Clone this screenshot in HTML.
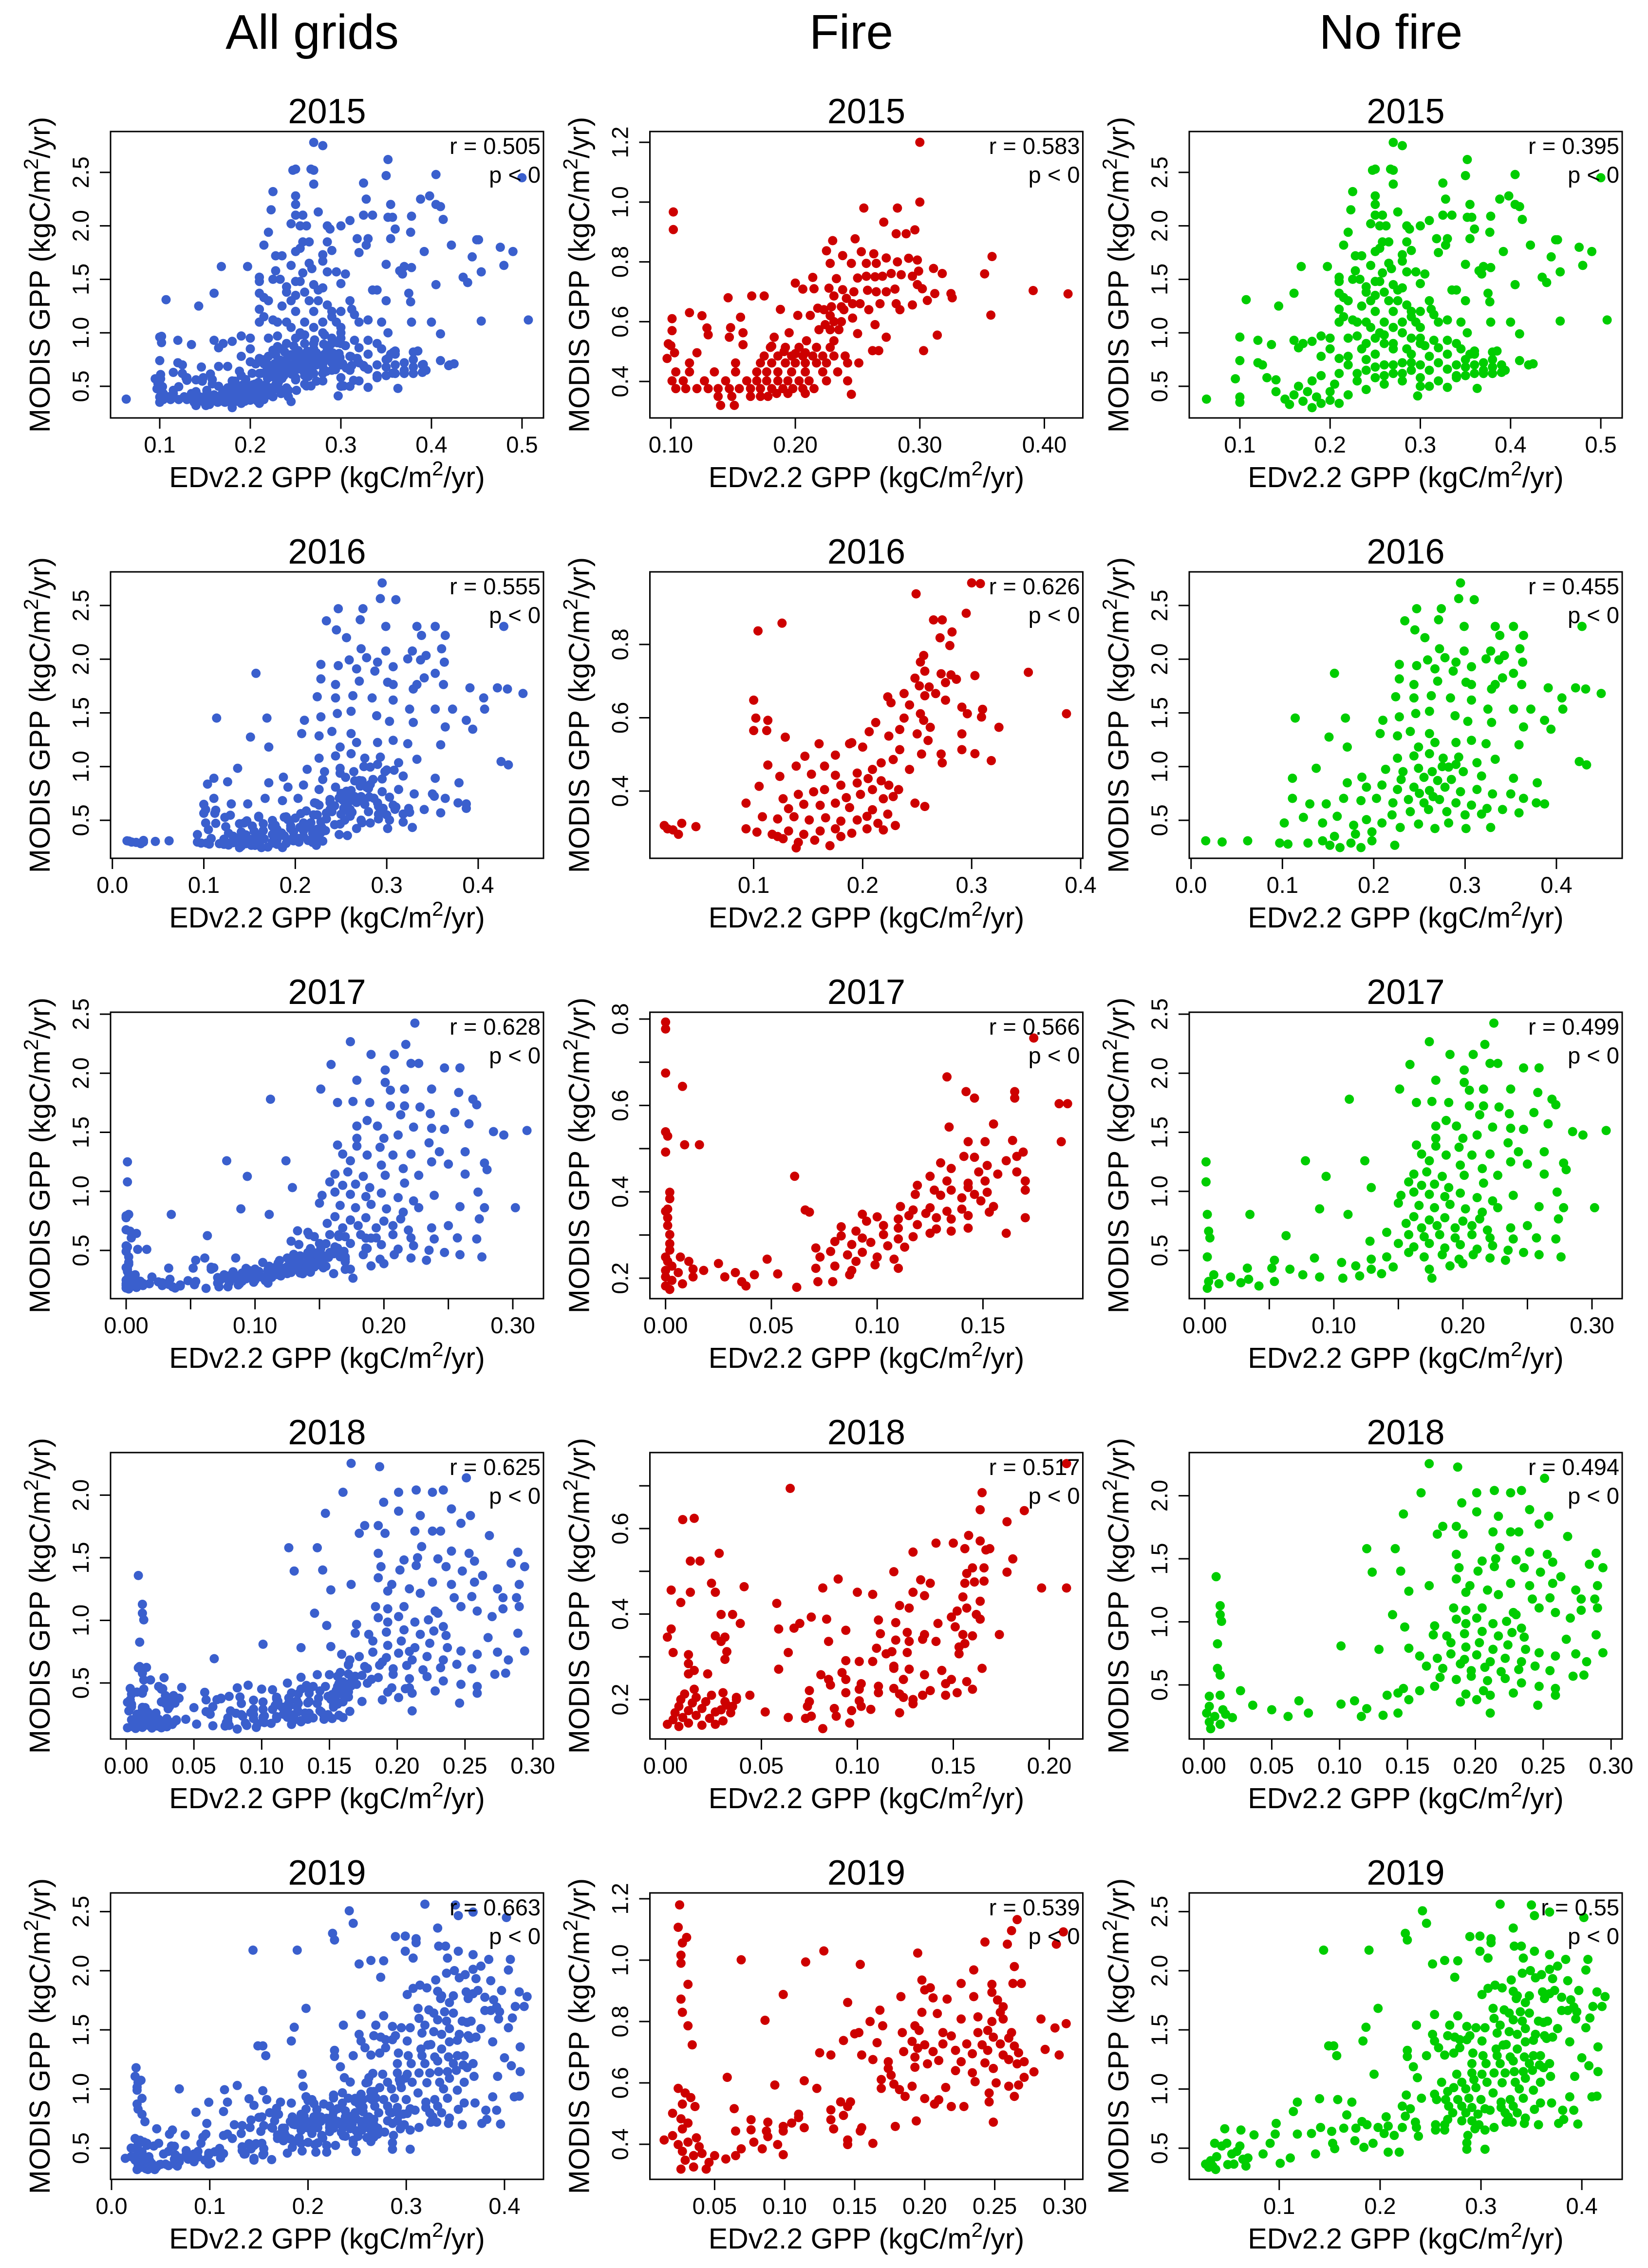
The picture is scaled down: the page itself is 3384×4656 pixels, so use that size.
<!DOCTYPE html>
<html><head><meta charset="utf-8"><title>EDv2.2 vs MODIS GPP</title>
<style>html,body{margin:0;padding:0;background:#fff}svg{display:block}text{font-family:"Liberation Sans",Arial,sans-serif;fill:#000}</style>
</head><body>
<svg id="fig" xmlns="http://www.w3.org/2000/svg" width="3384" height="4656" viewBox="0 0 3384 4656">
<rect width="3384" height="4656" fill="#fff"/>
<text x="641" y="100" font-size="100" text-anchor="middle">All grids</text>
<text x="1748" y="100" font-size="100" text-anchor="middle">Fire</text>
<text x="2856" y="100" font-size="100" text-anchor="middle">No fire</text>
<g id="panels"></g>
</svg>
<script>
const years=["2015","2016","2017","2018","2019"];
const rAll=["0.505","0.555","0.628","0.625","0.663"];
const rFire=["0.583","0.626","0.566","0.517","0.539"];
const rNoFire=["0.395","0.455","0.499","0.494","0.55"];

const fire2015=[[0.30,1.2],[0.102,0.967],[0.102,0.908],[0.255,0.98],[0.282,0.98],[0.30,1.0],[0.271,0.933],[0.281,0.894],[0.289,0.894],[0.296,0.907],[0.23,0.871],[0.248,0.877],[0.225,0.837],[0.238,0.821],[0.253,0.834],[0.263,0.827],[0.358,0.818],[0.352,0.76],[0.391,0.704],[0.419,0.693],[0.357,0.622],[0.228,0.795],[0.245,0.795],[0.257,0.795],[0.265,0.795],[0.273,0.813],[0.282,0.8],[0.291,0.812],[0.298,0.806],[0.311,0.778],[0.318,0.761],[0.299,0.769],[0.214,0.748],[0.2,0.729],[0.233,0.744],[0.25,0.746],[0.257,0.752],[0.264,0.75],[0.27,0.752],[0.277,0.761],[0.285,0.757],[0.294,0.752],[0.206,0.709],[0.215,0.71],[0.227,0.712],[0.238,0.707],[0.247,0.7],[0.258,0.705],[0.265,0.7],[0.273,0.7],[0.28,0.709],[0.298,0.724],[0.302,0.71],[0.312,0.694],[0.325,0.694],[0.326,0.68],[0.306,0.671],[0.231,0.686],[0.241,0.678],[0.146,0.68],[0.165,0.686],[0.175,0.686],[0.246,0.66],[0.237,0.65],[0.229,0.65],[0.218,0.645],[0.239,0.64],[0.252,0.66],[0.259,0.64],[0.268,0.66],[0.281,0.66],[0.294,0.656],[0.284,0.64],[0.246,0.612],[0.202,0.621],[0.212,0.621],[0.188,0.641],[0.156,0.615],[0.129,0.579],[0.13,0.556],[0.148,0.58],[0.147,0.548],[0.158,0.563],[0.158,0.523],[0.121,0.496],[0.098,0.526],[0.1,0.52],[0.097,0.477],[0.103,0.496],[0.183,0.548],[0.195,0.563],[0.181,0.518],[0.191,0.5],[0.2,0.493],[0.208,0.496],[0.209,0.536],[0.219,0.573],[0.228,0.573],[0.235,0.573],[0.231,0.536],[0.25,0.56],[0.264,0.59],[0.273,0.548],[0.262,0.503],[0.267,0.503],[0.303,0.503],[0.314,0.555],[0.231,0.6],[0.237,0.6],[0.228,0.62],[0.223,0.64],[0.224,0.59],
[0.104,0.376],[0.112,0.376],[0.121,0.376],[0.13,0.376],[0.138,0.376],[0.147,0.376],[0.155,0.376],[0.164,0.376],[0.172,0.376],[0.181,0.376],[0.19,0.376],[0.198,0.376],[0.206,0.376],[0.215,0.376],
[0.101,0.402],[0.11,0.402],[0.127,0.402],[0.144,0.402],[0.161,0.402],[0.169,0.402],[0.177,0.402],[0.186,0.402],[0.194,0.402],[0.203,0.402],[0.211,0.402],[0.225,0.402],[0.242,0.402],
[0.104,0.432],[0.115,0.432],[0.135,0.432],[0.152,0.432],[0.169,0.432],[0.177,0.432],[0.186,0.432],[0.197,0.432],[0.208,0.432],[0.222,0.432],[0.234,0.432],
[0.115,0.462],[0.152,0.462],[0.172,0.462],[0.181,0.462],[0.192,0.462],[0.2,0.462],[0.208,0.462],[0.217,0.462],[0.225,0.462],[0.242,0.462],[0.251,0.462],
[0.175,0.485],[0.186,0.485],[0.197,0.485],[0.206,0.485],[0.214,0.485],[0.222,0.485],[0.231,0.485],[0.24,0.485],
[0.18,0.514],[0.192,0.514],[0.203,0.514],[0.217,0.514],[0.228,0.514],
[0.138,0.35],[0.149,0.35],[0.164,0.35],[0.172,0.35],[0.178,0.35],[0.14,0.32],[0.151,0.32],[0.185,0.36],[0.194,0.36],[0.208,0.36],[0.245,0.357],[0.101,0.57],[0.101,0.61],[0.115,0.63],[0.125,0.62]];

const noFire2015=[[0.063,0.38],[0.107,1.31],[0.143,1.25],[0.168,1.62],[0.197,1.62],[0.16,1.37],[0.27,2.78],[0.28,2.75],[0.247,2.52],[0.25,2.53],[0.267,2.53],[0.27,2.52],[0.27,2.39],[0.225,2.32],[0.25,2.28],[0.25,2.2],[0.223,2.15],[0.25,2.1],[0.258,2.1],[0.245,2.02],[0.255,2.0],[0.262,2.0],[0.275,2.13],[0.285,2.0],[0.288,1.97],[0.3,2.0],[0.31,2.05],[0.325,2.4],[0.328,2.25],[0.325,2.1],[0.335,2.1],[0.352,2.62],[0.35,2.47],[0.355,2.2],[0.352,2.08],[0.357,2.08],[0.36,1.97],[0.378,2.09],[0.377,1.94],[0.388,2.25],[0.398,2.28],[0.405,2.48],[0.405,2.2],[0.41,2.18],[0.413,2.06],[0.422,1.82],[0.45,1.87],[0.452,1.87],[0.476,1.8],[0.49,1.76],[0.48,1.63],[0.445,1.71],[0.455,1.57],[0.435,1.52],[0.44,1.47],[0.405,1.45],[0.392,1.76],[0.355,1.88],[0.35,1.64],[0.365,1.58],[0.368,1.55],[0.37,1.62],[0.378,1.61],[0.375,1.37],[0.377,1.29],[0.378,1.1],[0.4,1.1],[0.41,0.99],[0.455,1.11],[0.507,1.12],[0.5,2.45],[0.35,1.3],[0.34,1.4],[0.335,1.4],[0.328,1.82],[0.33,1.88],[0.318,1.88],[0.32,1.75],[0.305,1.55],[0.3,1.46],[0.295,1.57],[0.29,1.77],[0.285,1.85],[0.28,1.73],[0.28,1.67],[0.285,1.57],[0.265,1.85],[0.258,1.85],[0.255,1.79],[0.25,1.76],[0.245,1.63],[0.235,1.72],[0.228,1.72],[0.22,1.94],[0.215,1.82],[0.225,1.5],[0.228,1.58],[0.233,1.5],[0.21,1.52],[0.21,1.48],[0.21,1.37],[0.215,1.33],[0.22,1.3],[0.21,1.22],[0.24,1.43],[0.24,1.38],[0.245,1.3],[0.25,1.48],[0.255,1.48],[0.258,1.56],[0.26,1.38],[0.265,1.65],[0.268,1.6],[0.27,1.45],[0.275,1.4],[0.28,1.42],[0.285,1.26],[0.29,1.2],[0.295,1.1],[0.3,1.05],[0.31,1.3],[0.312,1.22],[0.315,1.17],[0.32,1.1],[0.33,1.12],[0.345,1.1],[0.352,1.0],
[0.21,1.1],[0.215,1.15],[0.225,1.12],[0.23,1.1],[0.24,1.1],[0.23,0.97],[0.26,1.1],[0.25,1.2],[0.265,1.3],[0.27,1.2],[0.28,1.1],[0.235,1.25],[0.245,1.05],[0.255,1.0],[0.26,0.9],[0.235,0.85],[0.22,0.95],[0.25,1.35],[0.275,1.3],[0.29,1.15],[0.3,1.2],[0.27,0.9],[0.285,0.85],
[0.3,0.95],[0.305,0.88],[0.315,0.93],[0.33,0.93],[0.34,0.9],[0.345,0.85],[0.355,0.8],[0.36,0.83],[0.38,0.82],[0.385,0.83],[0.38,0.75],[0.39,0.7],[0.394,0.65],[0.37,0.72],[0.36,0.7],[0.35,0.68],[0.36,0.62],[0.37,0.65],[0.363,0.48],[0.38,0.62],[0.41,0.74],[0.42,0.7],[0.425,0.71],[0.35,0.6],[0.34,0.58],[0.33,0.66],[0.32,0.55],[0.31,0.5],[0.3,0.5],[0.33,0.49],[0.297,0.41],
[0.1,0.96],[0.1,0.74],[0.095,0.57],[0.1,0.4],[0.1,0.35],[0.12,0.93],[0.135,0.89],[0.12,0.72],[0.125,0.7],[0.14,0.56],[0.13,0.58],[0.16,0.93],[0.165,0.86],[0.17,0.9],[0.18,0.92],[0.19,0.97],[0.2,0.95],[0.19,0.78],[0.2,0.85],[0.21,0.76],[0.22,0.78],[0.24,0.9],[0.25,0.95],[0.26,0.98],[0.27,1.05],[0.28,1.0],[0.29,0.95],[0.3,0.9],
[0.14,0.45],[0.15,0.38],[0.155,0.33],[0.16,0.42],[0.165,0.5],[0.17,0.36],[0.175,0.45],[0.18,0.3],[0.18,0.55],[0.185,0.4],[0.19,0.34],[0.19,0.6],[0.2,0.45],[0.2,0.37],[0.205,0.52],[0.21,0.34],[0.21,0.62],[0.22,0.42],[0.22,0.7],[0.23,0.55],[0.24,0.47],[0.24,0.65],[0.25,0.58],[0.25,0.8],[0.26,0.7],[0.26,0.52],[0.27,0.62],[0.27,0.85],[0.28,0.72],[0.28,0.55],[0.29,0.8],[0.29,0.65],[0.3,0.7],[0.3,0.58],[0.31,0.78],[0.31,0.65],[0.32,0.72],[0.32,0.86],[0.33,0.8],[0.34,0.7],[0.34,0.6],[0.35,0.75],[0.36,0.8],[0.37,0.62],[0.38,0.68],[0.39,0.63],[0.26,0.6],[0.27,0.7],[0.24,0.75],[0.25,0.68],[0.23,0.62],[0.28,0.62],[0.29,0.72]];

const fire2016=[[0.3,0.968],[0.308,0.966],[0.249,0.938],[0.126,0.858],[0.104,0.837],[0.295,0.885],[0.265,0.867],[0.273,0.867],[0.282,0.834],[0.271,0.818],[0.28,0.797],[0.256,0.77],[0.253,0.752],[0.352,0.724],[0.387,0.611],[0.1,0.648],
[0.257,0.727],[0.272,0.72],[0.281,0.717],[0.248,0.708],[0.276,0.696],[0.261,0.684],[0.252,0.687],[0.286,0.705],[0.303,0.715],[0.267,0.666],[0.257,0.66],[0.238,0.666],[0.223,0.657],[0.226,0.641],[0.243,0.635],[0.276,0.648],[0.291,0.629],[0.31,0.623],[0.296,0.611],[0.309,0.602],[0.253,0.611],[0.238,0.599],[0.256,0.593],[0.262,0.574],[0.25,0.556],[0.212,0.587],[0.234,0.568],[0.224,0.55],[0.206,0.562],[0.325,0.574],[0.291,0.556],[0.26,0.538],[0.291,0.513],[0.272,0.501],[0.303,0.502],[0.318,0.483],[0.273,0.477],[0.254,0.501],[0.234,0.513],[0.2,0.52],[0.19,0.532],
[0.129,0.547],[0.102,0.599],[0.113,0.593],[0.1,0.565],[0.112,0.565],[0.16,0.529],[0.188,0.529],[0.175,0.498],[0.147,0.495],[0.139,0.468],[0.113,0.471],[0.165,0.468],[0.228,0.486],[0.217,0.477],[0.209,0.459],[0.243,0.459],
[0.124,0.44],[0.105,0.413],[0.153,0.446],[0.175,0.443],[0.195,0.449],[0.205,0.434],[0.217,0.428],[0.224,0.416],[0.233,0.404],[0.195,0.422],[0.18,0.416],[0.165,0.404],[0.155,0.398],[0.141,0.391],[0.127,0.379],[0.093,0.367],[0.209,0.404],[0.228,0.385],[0.248,0.367],[0.257,0.358],[0.219,0.379],[0.198,0.391],[0.185,0.382],[0.175,0.367],[0.161,0.361],[0.146,0.364],[0.132,0.352],[0.188,0.355],[0.209,0.349],[0.223,0.337],[0.204,0.331],
[0.108,0.33],[0.122,0.324],[0.137,0.33],[0.151,0.321],[0.166,0.327],[0.18,0.318],[0.195,0.321],[0.214,0.312],[0.23,0.306],[0.093,0.297],[0.103,0.288],[0.117,0.282],[0.132,0.291],[0.146,0.282],[0.161,0.291],[0.175,0.297],[0.19,0.285],[0.204,0.297],[0.127,0.27],[0.141,0.26],[0.156,0.266],[0.17,0.251],[0.139,0.245],[0.122,0.276],[0.18,0.276],[0.219,0.294],
[0.018,0.306],[0.026,0.294],[0.031,0.282],[0.034,0.312],[0.047,0.303],[0.021,0.297]];

const noFire2016=[[0.295,2.71],[0.293,2.564],[0.31,2.554],[0.247,2.47],[0.274,2.47],[0.234,2.357],[0.271,2.367],[0.245,2.273],[0.299,2.305],[0.333,2.305],[0.353,2.305],[0.338,2.221],[0.364,2.221],[0.256,2.2],[0.428,2.305],[0.272,2.097],[0.299,2.076],[0.328,2.076],[0.36,2.097],[0.259,1.993],[0.278,2.014],[0.29,1.972],[0.323,2.003],[0.337,1.993],[0.343,2.034],[0.363,1.972],[0.157,1.868],[0.228,1.951],[0.247,1.94],[0.267,1.91],[0.287,1.889],[0.307,1.93],[0.353,1.868],[0.228,1.816],[0.244,1.764],[0.27,1.795],[0.301,1.785],[0.307,1.764],[0.333,1.764],[0.341,1.826],[0.391,1.733],[0.421,1.733],[0.432,1.722],[0.449,1.681],[0.362,1.764],[0.329,1.722],
[0.224,1.65],[0.244,1.639],[0.263,1.66],[0.284,1.639],[0.307,1.619],[0.325,1.535],[0.353,1.535],[0.372,1.535],[0.406,1.639],[0.407,1.535],[0.114,1.452],[0.169,1.452],[0.21,1.431],[0.228,1.463],[0.246,1.494],[0.261,1.515],[0.289,1.473],[0.303,1.421],[0.329,1.411],[0.364,1.369],[0.387,1.431],[0.394,1.348],[0.151,1.275],[0.171,1.182],[0.207,1.307],[0.226,1.286],[0.24,1.327],[0.261,1.307],[0.29,1.224],[0.307,1.244],[0.323,1.213],[0.359,1.203],[0.267,1.224],[0.249,1.182],
[0.226,1.078],[0.244,1.099],[0.261,1.12],[0.276,1.078],[0.293,1.088],[0.313,1.036],[0.333,1.068],[0.425,1.047],[0.433,1.016],[0.137,0.984],[0.111,0.891],[0.187,0.901],[0.213,0.974],[0.232,0.953],[0.249,0.984],[0.264,0.953],[0.282,0.995],[0.298,0.953],[0.318,0.912],[0.353,0.891],[0.379,0.849],
[0.171,0.849],[0.192,0.808],[0.209,0.828],[0.226,0.787],[0.244,0.808],[0.261,0.777],[0.278,0.808],[0.295,0.766],[0.313,0.787],[0.33,0.745],[0.35,0.745],[0.364,0.704],[0.378,0.662],[0.387,0.652],
[0.111,0.704],[0.13,0.652],[0.148,0.652],[0.167,0.704],[0.186,0.683],[0.203,0.704],[0.221,0.662],[0.238,0.693],[0.255,0.662],[0.272,0.693],[0.29,0.662],[0.307,0.641],[0.324,0.61],[0.341,0.6],[0.359,0.569],[0.318,0.558],
[0.102,0.475],[0.123,0.527],[0.144,0.475],[0.16,0.537],[0.178,0.454],[0.192,0.506],[0.209,0.475],[0.229,0.433],[0.249,0.465],[0.267,0.423],[0.282,0.475],[0.301,0.423],[0.328,0.433],
[0.016,0.309],[0.034,0.298],[0.062,0.309],[0.097,0.288],[0.106,0.278],[0.128,0.288],[0.144,0.309],[0.152,0.267],[0.163,0.246],[0.175,0.288],[0.186,0.246],[0.198,0.309],[0.223,0.267],[0.157,0.35],[0.18,0.371],[0.198,0.392],
[0.255,0.9],[0.27,0.87],[0.285,0.88],[0.25,0.75],[0.265,0.72],[0.24,0.58],[0.26,0.6],[0.28,0.58],[0.22,0.55],[0.3,0.55],[0.23,0.88],[0.275,1.0],[0.29,1.02]];

const fire2017=[[0,0.793],[0,0.777],[0.174,0.756],[0,0.675],[0.008,0.644],[0.133,0.666],[0.142,0.632],[0.146,0.617],[0.165,0.632],[0.165,0.617],[0.186,0.604],[0.19,0.604],[0,0.539],[0.001,0.529],[0.009,0.509],[0.016,0.509],[0.134,0.55],[0.155,0.557],[0.143,0.516],[0.151,0.516],[0.164,0.519],[0.187,0.516],[0,0.492],[0.061,0.436],[0.141,0.482],[0.146,0.48],[0.13,0.467],[0.152,0.461],[0.161,0.472],[0.166,0.482],[0.169,0.492],[0.135,0.454],[0.148,0.446],[0.157,0.441],[0.166,0.446],[0.125,0.436],[0.133,0.425],[0.143,0.42],[0.151,0.425],[0.17,0.425],[0.119,0.415],[0.127,0.404],[0.135,0.404],[0.143,0.41],[0.152,0.399],[0.17,0.404],[0.002,0.399],[0.002,0.384],[0.001,0.36],[0.118,0.394],[0.13,0.392],[0.14,0.386],[0.149,0.379],[0.155,0.366],[0.146,0.394],[0.111,0.366],[0.117,0.358],[0.125,0.363],[0.133,0.355],[0.14,0.36],[0.153,0.353],[0.066,0.358],[0.068,0.353],[0.093,0.348],[0.1,0.342],[0.11,0.337],[0.123,0.35],[0.115,0.345],[0.128,0.34],[0.135,0.337],[0.143,0.345],[0.17,0.34],[0.161,0.304],[0,0.355],[0.001,0.34],[0.001,0.322],
[0.083,0.319],[0.09,0.309],[0.095,0.332],[0.103,0.322],[0.11,0.316],[0.119,0.324],[0.128,0.314],[0.135,0.309],[0.143,0.316],[0.083,0.298],[0.093,0.293],[0.103,0.301],[0.11,0.291],[0.117,0.296],[0.125,0.304],[0.08,0.285],[0.088,0.278],[0.097,0.283],[0.105,0.275],[0.113,0.272],[0.071,0.27],[0.078,0.262],[0.086,0.254],[0.093,0.26],[0.1,0.249],[0.108,0.244],[0.073,0.249],[0.071,0.223],[0.08,0.228],[0.09,0.239],[0.099,0.231],[0.088,0.218],[0.11,0.223],[0.087,0.208],[0.079,0.192],[0.072,0.192],[0.062,0.179],[0.053,0.21],[0.042,0.208],[0.036,0.192],[0.038,0.182],[0.048,0.244],[0.025,0.234],[0.018,0.218],[0.013,0.203],[0.028,0.203],[0.033,0.213],
[0,0.249],[0.001,0.239],[0.003,0.228],[0,0.218],[0.006,0.213],[0,0.203],[0.003,0.195],[0.008,0.187],[0,0.182],[0.002,0.174],[0.011,0.239],[0.013,0.221],[0.007,0.249],[0.002,0.301],[0.002,0.28],[0.002,0.265]];

const noFire2017=[[0.224,2.424],[0.174,2.267],[0.217,2.244],[0.19,2.159],[0.208,2.159],[0.159,2.074],[0.201,2.027],[0.221,2.083],[0.227,2.083],[0.247,2.045],[0.259,2.045],[0.179,1.941],[0.201,1.922],[0.151,1.866],[0.112,1.78],[0.205,1.856],[0.216,1.866],[0.237,1.866],[0.258,1.837],[0.164,1.752],[0.176,1.761],[0.189,1.752],[0.205,1.723],[0.216,1.723],[0.228,1.714],[0.269,1.78],[0.272,1.733],[0.213,1.648],[0.236,1.657],[0.255,1.667],[0.187,1.6],[0.179,1.553],[0.195,1.553],[0.223,1.544],[0.237,1.534],[0.247,1.525],[0.266,1.572],[0.285,1.506],[0.293,1.477],[0.311,1.515],
[0.179,1.449],[0.2,1.449],[0.211,1.477],[0.164,1.392],[0.179,1.383],[0.197,1.373],[0.235,1.411],[0.243,1.335],[0.263,1.335],[0.168,1.316],[0.187,1.307],[0.207,1.307],[0.221,1.316],[0.001,1.25],[0.078,1.259],[0.124,1.259],[0.174,1.259],[0.198,1.222],[0.215,1.193],[0.237,1.25],[0.25,1.231],[0.278,1.24],[0.28,1.184],[0.263,1.146],[0.094,1.127],[0.162,1.146],[0.172,1.165],[0.184,1.127],[0.201,1.136],[0.227,1.136],[0.001,1.08],[0.129,1.032],[0.158,1.08],[0.168,1.051],[0.178,1.061],[0.189,1.032],[0.216,1.07],
[0.152,0.966],[0.162,0.994],[0.174,0.975],[0.186,0.956],[0.198,0.985],[0.211,0.947],[0.223,0.919],[0.239,0.966],[0.273,0.994],[0.002,0.805],[0.035,0.805],[0.089,0.852],[0.111,0.805],[0.15,0.9],[0.166,0.881],[0.178,0.862],[0.19,0.89],[0.202,0.852],[0.215,0.824],[0.227,0.862],[0.259,0.871],[0.278,0.862],[0.302,0.862],[0.274,0.767],
[0.162,0.786],[0.174,0.758],[0.186,0.777],[0.2,0.748],[0.213,0.767],[0.156,0.729],[0.168,0.691],[0.18,0.71],[0.194,0.691],[0.207,0.71],[0.219,0.672],[0.237,0.691],[0.25,0.71],[0.158,0.634],[0.141,0.653],[0.17,0.616],[0.182,0.634],[0.194,0.606],[0.207,0.634],[0.221,0.606],[0.239,0.597],[0.257,0.606],[0.272,0.597],[0.128,0.578],[0.003,0.663],[0.004,0.606],[0.063,0.625],
[0.15,0.559],[0.162,0.53],[0.174,0.559],[0.186,0.521],[0.198,0.549],[0.211,0.511],[0.223,0.54],[0.235,0.502],[0.247,0.483],[0.259,0.464],[0.276,0.445],[0.158,0.483],[0.17,0.445],[0.184,0.464],[0.197,0.426],[0.208,0.464],[0.221,0.436],[0.233,0.417],[0.19,0.369],[0.2,0.388],[0.174,0.341],[0.176,0.265],
[0.002,0.445],[0.085,0.436],[0.054,0.417],[0.129,0.426],[0.141,0.445],[0.106,0.398],[0.117,0.369],[0.129,0.341],[0.146,0.36],[0.137,0.303],[0.12,0.284],[0.107,0.265],[0.089,0.275],[0.076,0.294],[0.066,0.341],[0.052,0.35],[0.033,0.35],[0.02,0.275],[0.007,0.294],[0.003,0.237],[0.002,0.18],[0.011,0.218],[0.028,0.227],[0.042,0.199],[0.054,0.237],[0.034,0.256]];

const fire2018=[[0.209,0.752],[0.065,0.694],[0.165,0.684],[0.164,0.644],[0.187,0.642],[0.178,0.616],[0.009,0.621],[0.015,0.624],[0.028,0.542],[0.013,0.524],[0.018,0.524],[0.158,0.584],[0.141,0.566],[0.15,0.566],[0.164,0.571],[0.156,0.553],[0.167,0.55],[0.129,0.545],[0.169,0.553],[0.181,0.529],[0.16,0.508],[0.166,0.508],[0.178,0.498],[0.119,0.499],[0.157,0.495],[0.196,0.461],[0.209,0.461],[0.09,0.482],[0.003,0.456],[0.013,0.451],[0.026,0.451],[0.041,0.464],[0.024,0.472],[0.133,0.48],[0.138,0.472],[0.156,0.472],[0.161,0.475],[0.166,0.477],[0.082,0.461],[0.1,0.451],[0.108,0.446],[0.129,0.451],[0.135,0.443],
[0.155,0.44],[0.164,0.43],[0.157,0.414],[0.152,0.407],[0.162,0.399],[0.149,0.393],[0.164,0.388],[0.122,0.42],[0.127,0.414],[0.008,0.427],[0.029,0.399],[0.035,0.399],[0.058,0.425],[0.076,0.393],[0.07,0.378],[0.039,0.378],[0.003,0.365],[0.059,0.365],[0.067,0.367],[0.084,0.388],[0.094,0.362],[0.111,0.386],[0.12,0.38],[0.142,0.378],[0.112,0.354],[0.126,0.357],[0.135,0.352],[0.151,0.37],[0.155,0.352],[0.16,0.349],[0.174,0.352],[0.026,0.349],[0.031,0.346],[0.001,0.346],[0.029,0.336],[0.085,0.336],[0.12,0.339],[0.127,0.336],[0.134,0.341],[0.141,0.336],[0.156,0.331],[0.153,0.323],
[0.11,0.32],[0.118,0.312],[0.126,0.31],[0.004,0.31],[0.032,0.312],[0.012,0.305],[0.064,0.31],[0.031,0.294],[0.094,0.291],[0.101,0.289],[0.108,0.289],[0.115,0.307],[0.153,0.307],[0.012,0.284],[0.059,0.271],[0.015,0.268],[0.012,0.26],[0.022,0.26],[0.119,0.273],[0.127,0.271],[0.135,0.258],[0.144,0.268],[0.124,0.247],[0.119,0.278],[0.149,0.247],[0.146,0.237],[0.157,0.242],[0.16,0.224],[0.165,0.273],
[0.081,0.258],[0.085,0.247],[0.092,0.263],[0.094,0.247],[0.102,0.237],[0.111,0.231],[0.119,0.226],[0.101,0.224],[0.094,0.216],[0.086,0.234],[0.075,0.221],[0.111,0.216],[0.122,0.213],[0.124,0.205],[0.129,0.2],[0.134,0.21],[0.138,0.221],[0.146,0.21],[0.152,0.216],[0.129,0.19],[0.122,0.169],[0.101,0.197],[0.102,0.184],[0.107,0.177],[0.097,0.174],[0.088,0.179],[0.089,0.161],[0.075,0.195],[0.074,0.184],[0.076,0.161],[0.073,0.156],[0.064,0.158],[0.082,0.132],[0.096,0.145],[0.052,0.171],[0.035,0.184],[0.044,0.21],[0.037,0.2],[0.029,0.176],[0.034,0.169],
[0.001,0.142],[0.007,0.137],[0.012,0.145],[0.019,0.14],[0.026,0.142],[0.004,0.153],[0.009,0.158],[0.016,0.163],[0.023,0.156],[0.03,0.15],[0.005,0.169],[0.012,0.174],[0.019,0.179],[0.026,0.171],[0.032,0.187],[0.007,0.184],[0.014,0.192],[0.021,0.195],[0.008,0.2],[0.016,0.205],[0.024,0.21],[0.03,0.216],[0.01,0.213],[0.015,0.224],[0.031,0.195],[0.037,0.205]];

const noFire2018=[[0.166,2.254],[0.187,2.227],[0.251,2.138],[0.16,2.023],[0.201,2.023],[0.214,2.041],[0.226,2.023],[0.234,2.041],[0.19,1.943],[0.147,1.855],[0.201,1.872],[0.217,1.837],[0.24,1.89],[0.254,1.837],[0.176,1.757],[0.186,1.757],[0.247,1.775],[0.172,1.695],[0.191,1.695],[0.213,1.713],[0.226,1.713],[0.232,1.713],[0.268,1.677],[0.12,1.58],[0.141,1.58],[0.218,1.589],[0.24,1.553],[0.186,1.535],[0.205,1.482],[0.215,1.5],[0.23,1.491],[0.253,1.535],[0.257,1.473],[0.284,1.456],[0.294,1.429],[0.289,1.544],[0.124,1.394],[0.145,1.402],[0.188,1.429],[0.202,1.402],[0.214,1.438],[0.236,1.429],[0.248,1.394],[0.263,1.358],[0.009,1.358],[0.166,1.287],[0.186,1.34],[0.196,1.287],[0.209,1.252],[0.226,1.305],[0.24,1.287],[0.257,1.305],[0.274,1.252],[0.29,1.287],[0.151,1.243],[0.193,1.234],[0.217,1.216],[0.242,1.181],[0.255,1.19],[0.278,1.181],[0.288,1.181],
[0.012,1.128],[0.012,1.057],[0.013,1.004],[0.139,1.057],[0.184,1.11],[0.193,1.092],[0.205,1.11],[0.228,1.074],[0.247,1.11],[0.259,1.074],[0.278,1.092],[0.29,1.11],[0.27,1.03],[0.148,0.959],[0.17,0.968],[0.186,1.021],[0.193,0.986],[0.201,1.03],[0.213,0.986],[0.223,1.004],[0.23,1.057],[0.234,0.95],[0.169,0.897],[0.179,0.888],[0.192,0.906],[0.205,0.924],[0.217,0.888],[0.227,0.915],[0.236,0.879],[0.289,0.897],[0.267,0.862],[0.01,0.826],[0.101,0.809],[0.129,0.782],[0.151,0.791],[0.182,0.835],[0.193,0.8],[0.203,0.835],[0.213,0.782],[0.224,0.817],[0.237,0.782],[0.247,0.755],[0.259,0.729],[0.274,0.746],[0.294,0.755],[0.282,0.684],
[0.159,0.729],[0.172,0.711],[0.182,0.746],[0.192,0.702],[0.201,0.738],[0.211,0.684],[0.222,0.711],[0.234,0.684],[0.164,0.649],[0.176,0.631],[0.189,0.667],[0.197,0.613],[0.207,0.64],[0.219,0.605],[0.232,0.622],[0.244,0.649],[0.255,0.613],[0.272,0.569],[0.28,0.578],[0.174,0.56],[0.186,0.543],[0.197,0.569],[0.209,0.534],[0.222,0.551],[0.234,0.516],[0.247,0.489],[0.259,0.472],[0.228,0.436],[0.211,0.418],[0.17,0.489],[0.159,0.454],[0.147,0.472],[0.135,0.418],[0.143,0.436],[0.151,0.383],[0.193,0.427],[0.206,0.454],[0.189,0.365],[0.201,0.383],[0.211,0.277],[0.246,0.339],[0.259,0.418],[0.12,0.312],[0.132,0.259],[0.143,0.277],[0.111,0.374],[0.101,0.348],[0.116,0.25],[0.077,0.277],[0.07,0.374],[0.062,0.25],[0.05,0.303],[0.036,0.339],[0.027,0.454],[0.012,0.418],[0.004,0.41],[0.01,0.631],[0.012,0.578],[0.004,0.33],[0.014,0.303],[0.021,0.241],[0.008,0.25],[0.004,0.206],[0.005,0.153],[0.012,0.188],[0.002,0.277],[0.016,0.268]];

const fire2019=[[0.025,1.18],[0.266,1.132],[0.024,1.107],[0.03,1.074],[0.262,1.096],[0.299,1.092],[0.027,1.056],[0.243,1.059],[0.259,1.052],[0.294,1.052],[0.026,1.016],[0.026,0.99],[0.128,1.03],[0.069,1.001],[0.115,0.994],[0.154,0.986],[0.195,1.023],[0.235,0.968],[0.264,0.979],[0.031,0.921],[0.198,0.935],[0.204,0.91],[0.226,0.924],[0.248,0.921],[0.263,0.924],[0.269,0.924],[0.099,0.888],[0.2,0.903],[0.206,0.877],[0.216,0.873],[0.235,0.881],[0.248,0.895],[0.252,0.87],[0.183,0.881],[0.026,0.873],[0.145,0.862],[0.256,0.848],[0.027,0.83],[0.168,0.837],[0.198,0.83],[0.209,0.826],[0.254,0.83],[0.283,0.808],[0.301,0.793],[0.226,0.808],[0.238,0.815],[0.248,0.8],[0.256,0.808],[0.086,0.804],[0.031,0.786],[0.161,0.8],[0.17,0.786],[0.193,0.786],[0.293,0.779],[0.15,0.76],[0.153,0.764],[0.184,0.764],[0.196,0.771],[0.213,0.764],[0.238,0.764],[0.245,0.771],[0.262,0.764],[0.219,0.753],[0.249,0.749],[0.26,0.746],[0.142,0.738],[0.166,0.731],[0.191,0.735],[0.2,0.724],[0.213,0.727],[0.23,0.727],[0.241,0.724],[0.254,0.727],[0.264,0.72],[0.034,0.724],[0.125,0.698],[0.133,0.691],[0.155,0.691],[0.185,0.702],[0.195,0.713],[0.206,0.702],[0.222,0.706],[0.234,0.695],[0.245,0.706],[0.256,0.691],[0.267,0.698],[0.286,0.709],[0.296,0.691],[0.163,0.676],[0.174,0.669],[0.193,0.684],[0.21,0.673],[0.226,0.669],[0.243,0.665],[0.26,0.676],[0.271,0.669],[0.278,0.636],
[0.174,0.647],[0.193,0.651],[0.202,0.662],[0.222,0.64],[0.234,0.633],[0.249,0.647],[0.266,0.662],[0.271,0.618],[0.059,0.618],[0.093,0.593],[0.114,0.607],[0.123,0.582],[0.169,0.611],[0.176,0.625],[0.178,0.596],[0.191,0.589],[0.215,0.585],[0.236,0.604],[0.251,0.6],[0.26,0.589],[0.267,0.593],[0.169,0.582],[0.182,0.578],[0.186,0.556],[0.2,0.549],[0.21,0.545],[0.219,0.523],[0.228,0.523],[0.207,0.531],[0.246,0.567],[0.246,0.538],[0.264,0.556],
[0.024,0.582],[0.029,0.567],[0.033,0.552],[0.027,0.531],[0.036,0.523],[0.02,0.501],[0.026,0.483],[0.031,0.469],[0.027,0.45],[0.02,0.428],[0.014,0.414],[0.024,0.399],[0.031,0.407],[0.027,0.377],[0.035,0.363],[0.029,0.348],[0.026,0.319],[0.035,0.326],[0.044,0.319],[0.046,0.341],[0.039,0.392],[0.037,0.421],[0.041,0.37],[0.058,0.352],[0.05,0.363],[0.065,0.363],[0.069,0.385],[0.078,0.407],[0.084,0.385],[0.099,0.366],[0.095,0.399],[0.088,0.425],[0.099,0.443],[0.076,0.447],[0.065,0.443],[0.076,0.48],[0.064,0.516],[0.088,0.472],[0.105,0.469],[0.11,0.487],[0.114,0.454],[0.099,0.458],[0.11,0.498],[0.133,0.48],[0.135,0.45],[0.133,0.512],[0.142,0.494],[0.147,0.538],[0.14,0.538],[0.155,0.454],[0.154,0.443],[0.145,0.523],[0.145,0.414],[0.145,0.399],[0.163,0.403],[0.179,0.458],[0.194,0.476],[0.249,0.472],[0.087,0.443]];

const noFire2019=[[0.319,2.563],[0.35,2.556],[0.242,2.507],[0.353,2.466],[0.368,2.496],[0.402,2.45],[0.246,2.401],[0.225,2.316],[0.227,2.26],[0.289,2.289],[0.299,2.293],[0.31,2.271],[0.31,2.237],[0.332,2.361],[0.333,2.208],[0.34,2.208],[0.144,2.174],[0.189,2.174],[0.299,2.165],[0.353,2.165],[0.368,2.136],[0.252,2.057],[0.264,2.087],[0.277,2.084],[0.307,2.107],[0.342,2.107],[0.384,2.096],[0.406,2.096],[0.274,1.945],[0.341,1.979],[0.354,1.94],[0.36,1.967],[0.368,2.012],[0.376,2.039],[0.404,2.006],[0.33,1.922],[0.349,2.001],[0.371,1.933],[0.386,1.916],[0.301,1.799],[0.307,1.851],[0.314,1.878],[0.321,1.855],[0.332,1.826],[0.336,1.788],[0.348,1.788],[0.361,1.821],[0.368,1.806],[0.373,1.833],[0.397,1.833],[0.415,1.821],[0.423,1.781],[0.335,1.765],[0.344,1.731],[0.363,1.765],[0.38,1.776],[0.389,1.754],[0.42,1.698],[0.411,1.698],[0.392,1.693],[0.198,1.682],[0.312,1.682],[0.323,1.669],[0.328,1.642],[0.339,1.653],[0.348,1.642],[0.38,1.664],[0.386,1.664],[0.395,1.653],[0.254,1.63],[0.277,1.619],[0.313,1.597],[0.332,1.585],[0.341,1.574],[0.357,1.574],[0.362,1.563],[0.366,1.574],[0.394,1.592],[0.408,1.601],[0.236,1.54],[0.269,1.54],[0.286,1.529],[0.295,1.518],[0.304,1.518],[0.319,1.54],[0.344,1.511],[0.376,1.511],[0.404,1.518],[0.186,1.522],[0.252,1.462],[0.267,1.451],[0.274,1.439],[0.289,1.451],[0.316,1.473],[0.328,1.485],[0.336,1.462],[0.354,1.462],[0.363,1.451],[0.371,1.439],[0.183,1.406],[0.254,1.406],[0.279,1.417],[0.286,1.417],[0.301,1.406],[0.344,1.399],[0.352,1.412],[0.365,1.428],[0.388,1.399],[0.149,1.365],[0.154,1.365],[0.227,1.327],[0.258,1.349],[0.279,1.349],[0.322,1.372],[0.325,1.376],[0.336,1.338],[0.315,1.338],[0.416,1.356],[0.157,1.282],[0.227,1.275],[0.246,1.282],[0.264,1.287],[0.273,1.304],[0.292,1.304],[0.302,1.282],[0.316,1.282],[0.329,1.271],[0.343,1.271],[0.352,1.282],[0.359,1.282],[0.368,1.215],[0.4,1.264],[0.233,1.188],[0.291,1.215],[0.305,1.215],[0.319,1.215],[0.332,1.237],[0.348,1.215],[0.358,1.203],[0.407,1.197],[0.416,1.147],[0.194,1.125],[0.237,1.096],[0.276,1.125],[0.291,1.136],[0.301,1.125],[0.313,1.136],[0.324,1.136],[0.333,1.147],[0.342,1.147],[0.351,1.158],[0.362,1.181],[0.369,1.107],[0.393,1.107],
[0.261,1.057],[0.281,1.057],[0.293,1.08],[0.306,1.057],[0.321,1.053],[0.334,1.057],[0.344,1.091],[0.359,1.057],[0.273,1.012],[0.285,1.001],[0.295,1.012],[0.338,1.001],[0.352,0.99],[0.312,0.967],[0.267,0.979],[0.254,0.956],[0.226,0.949],[0.241,0.922],[0.415,0.94],[0.41,0.934],[0.388,0.934],[0.256,0.911],[0.265,0.911],[0.277,0.911],[0.288,0.922],[0.3,0.911],[0.32,0.889],[0.329,0.911],[0.342,0.922],[0.359,0.882],[0.37,0.882],[0.14,0.918],[0.158,0.911],[0.172,0.889],[0.118,0.889],[0.268,0.855],[0.281,0.855],[0.291,0.844],[0.304,0.833],[0.32,0.844],[0.332,0.855],[0.222,0.855],[0.23,0.833],[0.114,0.81],[0.272,0.799],[0.285,0.799],[0.297,0.788],[0.309,0.821],[0.324,0.799],[0.336,0.799],[0.353,0.828],[0.381,0.821],[0.392,0.821],[0.167,0.781],[0.206,0.765],[0.225,0.77],[0.267,0.743],[0.281,0.731],[0.291,0.731],[0.327,0.765],[0.344,0.754],[0.382,0.743],[0.377,0.709],[0.182,0.725],[0.235,0.72],[0.255,0.698],[0.264,0.698],[0.325,0.72],[0.331,0.72],[0.343,0.709],[0.396,0.704],[0.357,0.698],[0.298,0.698],[0.046,0.664],[0.062,0.653],[0.097,0.709],[0.141,0.675],[0.152,0.642],[0.164,0.669],[0.176,0.669],[0.187,0.698],[0.198,0.675],[0.208,0.687],[0.222,0.675],[0.236,0.675],[0.255,0.653],[0.264,0.653],[0.294,0.664],[0.304,0.653],[0.313,0.675],[0.204,0.624],[0.214,0.608],[0.238,0.601],[0.287,0.608],[0.132,0.624],[0.075,0.612],[0.096,0.619],[0.118,0.619],[0.153,0.541],[0.175,0.563],[0.193,0.541],[0.036,0.541],[0.091,0.541],[0.048,0.541],[0.043,0.518],[0.061,0.518],[0.286,0.545],[0.155,0.496],[0.184,0.507],[0.304,0.491],[0.286,0.491],[0.208,0.466],[0.219,0.466],[0.084,0.451],[0.136,0.451],[0.053,0.451],[0.058,0.473],[0.111,0.417],[0.101,0.372],[0.049,0.361],[0.055,0.365],[0.064,0.406],[0.069,0.417],[0.027,0.365],[0.032,0.394],[0.038,0.428],[0.03,0.338],[0.037,0.32],[0.034,0.349],[0.067,0.349]];

const fireSets=[fire2015,fire2016,fire2017,fire2018,fire2019];
const noFireSets=[noFire2015,noFire2016,noFire2017,noFire2018,noFire2019];

const xtA=[[0.1,0.2,0.3,0.4,0.5],[0,0.1,0.2,0.3,0.4],[0,0.05,0.1,0.15,0.2,0.25,0.3],[0,0.05,0.1,0.15,0.2,0.25,0.3],[0,0.1,0.2,0.3,0.4]];
const xlA=[["0.1","0.2","0.3","0.4","0.5"],["0.0","0.1","0.2","0.3","0.4"],["0.00","","0.10","","0.20","","0.30"],["0.00","0.05","0.10","0.15","0.20","0.25","0.30"],["0.0","0.1","0.2","0.3","0.4"]];
const ytA=[[0.5,1,1.5,2,2.5],[0.5,1,1.5,2,2.5],[0.5,1,1.5,2,2.5],[0.5,1,1.5,2],[0.5,1,1.5,2,2.5]];
const ylA=[["0.5","1.0","1.5","2.0","2.5"],["0.5","1.0","1.5","2.0","2.5"],["0.5","1.0","1.5","2.0","2.5"],["0.5","1.0","1.5","2.0"],["0.5","1.0","1.5","2.0","2.5"]];
const xtF=[[0.1,0.2,0.3,0.4],[0.1,0.2,0.3,0.4],[0,0.05,0.1,0.15],[0,0.05,0.1,0.15,0.2],[0.05,0.1,0.15,0.2,0.25,0.3]];
const xlF=[["0.10","0.20","0.30","0.40"],["0.1","0.2","0.3","0.4"],["0.00","0.05","0.10","0.15"],["0.00","0.05","0.10","0.15","0.20"],["0.05","0.10","0.15","0.20","0.25","0.30"]];
const ytF=[[0.4,0.6,0.8,1.0,1.2],[0.4,0.6,0.8],[0.2,0.3,0.4,0.5,0.6,0.7,0.8],[0.2,0.3,0.4,0.5,0.6,0.7],[0.4,0.6,0.8,1.0,1.2]];
const ylF=[["0.4","0.6","0.8","1.0","1.2"],["0.4","0.6","0.8"],["0.2","","0.4","","0.6","","0.8"],["0.2","","0.4","","0.6",""],["0.4","0.6","0.8","1.0","1.2"]];
const xtN=[[0.1,0.2,0.3,0.4,0.5],[0,0.1,0.2,0.3,0.4],[0,0.05,0.1,0.15,0.2,0.25,0.3],[0,0.05,0.1,0.15,0.2,0.25,0.3],[0.1,0.2,0.3,0.4]];
const xlN=[["0.1","0.2","0.3","0.4","0.5"],["0.0","0.1","0.2","0.3","0.4"],["0.00","","0.10","","0.20","","0.30"],["0.00","0.05","0.10","0.15","0.20","0.25","0.30"],["0.1","0.2","0.3","0.4"]];

const xlimA=[[0.0457,0.5237],[-0.002,0.4714],[-0.0121,0.3238],[-0.0115,0.3079],[-0.001,0.4397]];
const ylimA=[[0.204,2.882],[0.146,2.813],[0.092,2.5165],[0.0525,2.34],[0.2364,2.658]];
const xlimF=[[0.0832,0.4309],[0.0048,0.402],[-0.0074,0.1972],[-0.0081,0.2175],[0.0038,0.3129]];
const ylimF=[[0.278,1.236],[0.2166,0.998],[0.1527,0.8158],[0.1077,0.7778],[0.2857,1.219]];
const xlimN=[[0.0439,0.5237],[-0.002,0.472],[-0.012,0.3234],[-0.0108,0.3082],[0.0108,0.44]];
const ylimN=[[0.204,2.882],[0.146,2.813],[0.092,2.5165],[0.0714,2.342],[0.2364,2.658]];

const NS="http://www.w3.org/2000/svg";
const root=document.getElementById('panels');
const BW=889,BH=588;
function mk(tag,attrs,parent){const e=document.createElementNS(NS,tag);for(const k in attrs)e.setAttribute(k,attrs[k]);parent.appendChild(e);return e;}

function drawPanel(col,row,pts,color,xlim,ylim,xt,xl,yt,yl,rTxt,kind){
  const L=227+col*1107.5, T=270+row*904;
  const g=mk('g',{},root);
  
  
  const X=v=>L+(v-xlim[0])/(xlim[1]-xlim[0])*BW;
  const Y=v=>T+BH-(v-ylim[0])/(ylim[1]-ylim[0])*BH;
  const t=mk('text',{x:L+BW/2,y:T-17,'font-size':72,'text-anchor':'middle'},g);
  t.textContent=years[row];
  
  
  const pg=mk('g',{fill:color},g);
  
  
  for(const p of pts){
    const c=mk('circle',{cx:X(p[0]).toFixed(1),cy:Y(p[1]).toFixed(1),r:9.5},pg);
    
    
  }
  const box=mk('rect',{x:L,y:T,width:BW,height:BH,fill:'none',stroke:'#000','stroke-width':3},g);
  
  
  xt.forEach((v,i)=>{
    const x=X(v);
    const tk=mk('line',{x1:x,y1:T+BH,x2:x,y2:T+BH+22,stroke:'#000','stroke-width':3},g);
    
    
    if(xl[i]){
      const lb=mk('text',{x:x,y:T+BH+71,'font-size':47,'text-anchor':'middle'},g);
      lb.textContent=xl[i];
      
      
    }
  });
  yt.forEach((v,i)=>{
    const y=Y(v);
    const tk=mk('line',{x1:L-22,y1:y,x2:L,y2:y,stroke:'#000','stroke-width':3},g);
    
    
    if(yl[i]){
      const lb=mk('text',{x:0,y:0,'font-size':47,'text-anchor':'middle',transform:`translate(${L-45},${y}) rotate(-90)`},g);
      lb.textContent=yl[i];
      
      
    }
  });
  const xa=mk('text',{x:L+BW/2,y:T+BH+142,'font-size':59,'text-anchor':'middle'},g);
  xa.innerHTML='EDv2.2 GPP (kgC/m<tspan dy="-24" font-size="42">2</tspan><tspan dy="24">/yr)</tspan>';
  
  
  const ya=mk('text',{x:0,y:0,'font-size':59,'text-anchor':'middle',transform:`translate(${L-125},${T+BH/2}) rotate(-90)`},g);
  ya.innerHTML='MODIS GPP (kgC/m<tspan dy="-24" font-size="42">2</tspan><tspan dy="24">/yr)</tspan>';
  
  
  const rt=mk('text',{x:L+BW-6,y:T+46,'font-size':47,'text-anchor':'end'},g);
  rt.textContent='r = '+rTxt;
  
  
  const pt=mk('text',{x:L+BW-6,y:T+105,'font-size':47,'text-anchor':'end'},g);
  pt.textContent='p < 0';
  
  
}

for(let r=0;r<5;r++){
  const allPts=fireSets[r].concat(noFireSets[r]);
  drawPanel(0,r,allPts,'#3A5FCD',xlimA[r],ylimA[r],xtA[r],xlA[r],ytA[r],ylA[r],rAll[r],'all');
  drawPanel(1,r,fireSets[r],'#CD0000',xlimF[r],ylimF[r],xtF[r],xlF[r],ytF[r],ylF[r],rFire[r],'fire');
  drawPanel(2,r,noFireSets[r],'#00CD00',xlimN[r],ylimN[r],xtN[r],xlN[r],ytA[r],ylA[r],rNoFire[r],'no-fire');
}
</script>
</body></html>
